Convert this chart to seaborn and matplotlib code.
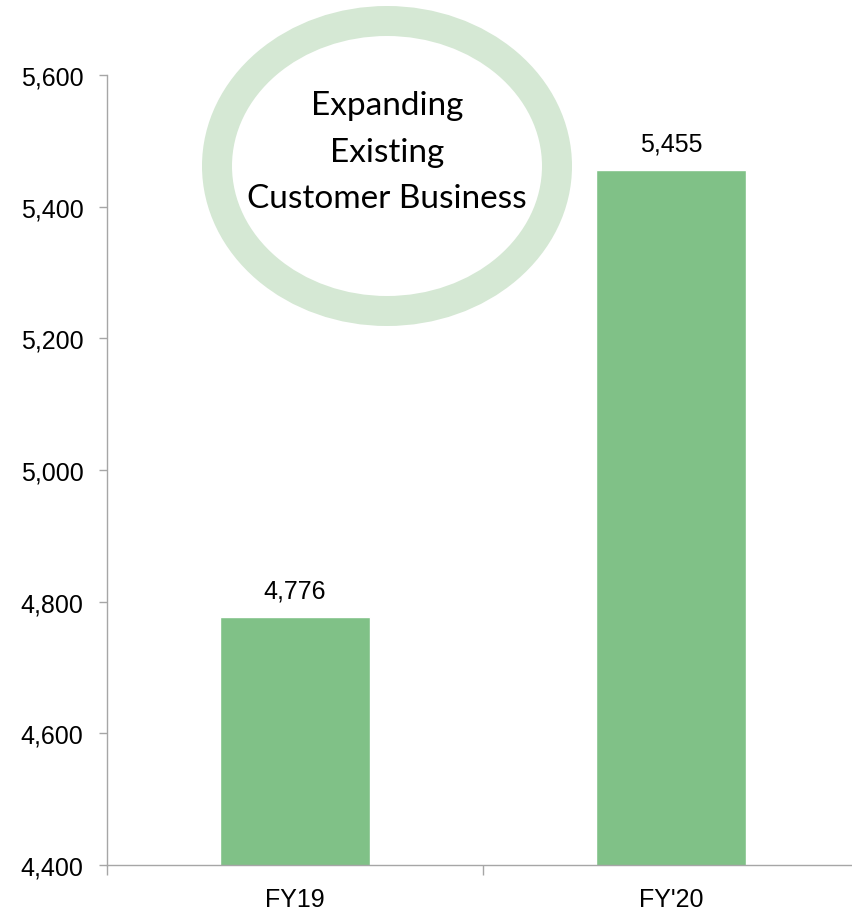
import matplotlib
matplotlib.use("Agg")
import matplotlib.pyplot as plt
from matplotlib.patches import Ellipse
from matplotlib.ticker import FuncFormatter, FixedLocator
import seaborn as sns
import pandas as pd

categories = ["FY19", "FY'20"]
values = [4776, 5455]
yticks = [4400, 4600, 4800, 5000, 5200, 5400, 5600]
callout_lines = ["Expanding", "Existing", "Customer Business"]

sns.set_theme(style="white")
plt.rcParams['font.family'] = ['Liberation Sans', 'DejaVu Sans']

W, H = 853, 912
fig = plt.figure(figsize=(W / 100, H / 100), dpi=100)
ax = fig.add_axes([107 / W, (H - 866) / H, (859 - 107) / W, (866 - 76) / H])

df = pd.DataFrame({"cat": categories, "val": values})
sns.barplot(data=df, x="cat", y="val", color="#80C187", width=0.4,
            saturation=1, ax=ax)

ax.set_ylim(4400, 5600)
ax.set_xlim(-0.5, 1.5)
ax.set_yticks(yticks)
ax.yaxis.set_major_formatter(FuncFormatter(lambda v, p: f"{int(v):,}"))
ax.set_xticks([0, 1])
ax.set_xticklabels(categories)
ax.xaxis.set_minor_locator(FixedLocator([-0.5, 0.5, 1.5]))
ax.set_xlabel("")
ax.set_ylabel("")

for s in ["top", "right"]:
    ax.spines[s].set_visible(False)
for s in ["left", "bottom"]:
    ax.spines[s].set_color("#A6A6A6")
    ax.spines[s].set_linewidth(1.0)

ax.tick_params(axis="y", which="major", left=True, length=6, width=1,
               color="#A6A6A6", labelsize=18, pad=11, labelcolor="black")
ax.tick_params(axis="x", which="major", bottom=False, length=0,
               labelsize=18, pad=16, labelcolor="black")
ax.tick_params(axis="x", which="minor", bottom=True, length=7, width=1,
               color="#A6A6A6")

for i, v in enumerate(values):
    ax.text(i, v + 22, f"{v:,}", ha="center", va="bottom", fontsize=18,
            color="black")

ring = Ellipse((387 / W, 1 - 167 / H), 340 / W, 290 / H,
               transform=fig.transFigure, fill=False,
               edgecolor="#D5E8D4", linewidth=30 * 0.72, clip_on=False)
fig.patches.append(ring)

baselines = [115, 162, 208]
for t, y in zip(callout_lines, baselines):
    fig.text(387 / W, 1 - y / H, t, ha="center", va="baseline", fontsize=24,
             family=["Lato", "DejaVu Sans"], color="black")

fig.savefig("out.png", dpi=100, facecolor="white")
